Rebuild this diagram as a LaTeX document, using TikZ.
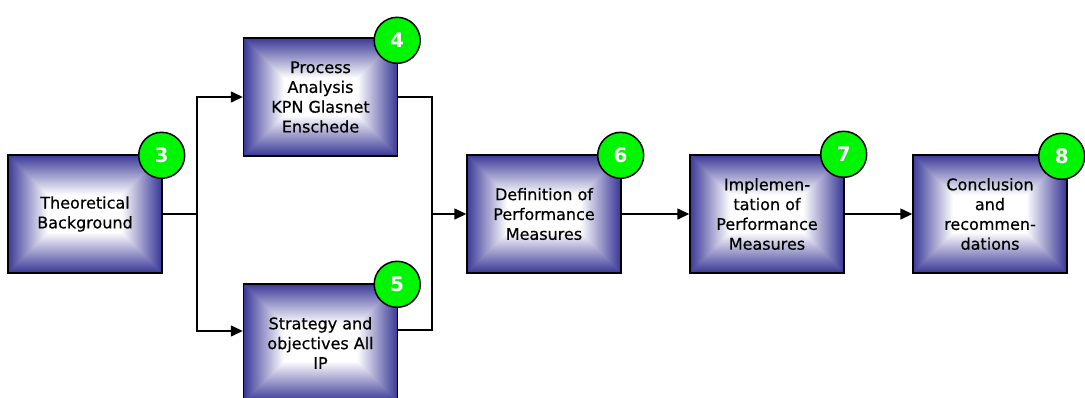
\documentclass[tikz,border=0pt]{standalone}
\usepackage{fontspec}
\setmainfont{DejaVu Sans}
\newfontfamily\boxfont[FakeBold=0.5]{DejaVu Sans}
\usetikzlibrary{arrows.meta,calc}

\definecolor{boxblue}{RGB}{60,58,152}
\definecolor{badgegreen}{RGB}{0,245,0}

\tikzset{
  stepbox/.style={
    rectangle, draw=black, line width=1.4pt, inner sep=0pt,
    minimum width=154pt, minimum height=118pt,
    align=center, font=\boxfont\fontsize{16}{19.8}\selectfont,
    % bevelled fill: nested rectangles fading from blue edge to white centre
    path picture={
      \foreach \i [evaluate=\i as \pct using {100*(1-\i/40)}] in {0,...,40} {
        \fill[boxblue!\pct!white]
          ($(path picture bounding box.south west)+(\i pt,\i pt)$) rectangle
          ($(path picture bounding box.north east)-(\i pt,\i pt)$);
      }
    }
  },
  badge/.style={
    circle, draw=black, line width=1.5pt, fill=badgegreen,
    minimum size=46pt, inner sep=0pt, text=white,
    font=\fontsize{20}{20}\selectfont\bfseries
  },
  link/.style={draw=black, line width=1.4pt},
  flow/.style={link, -{Triangle[length=12pt,width=11pt]}}
}

\begin{document}
\begin{tikzpicture}[x=1pt,y=-1pt]
\clip (0,0) rectangle (1085,397);

% process steps
\node[stepbox] (b3) at (85,214)    {Theoretical\\Background};
\node[stepbox] (b4) at (320.5,97)  {Process\\Analysis\\KPN Glasnet\\Enschede};
\node[stepbox] (b5) at (320.5,343) {Strategy and\\objectives All\\IP};
\node[stepbox] (b6) at (544,214)   {Definition of\\Performance\\Measures};
\node[stepbox] (b7) at (767,214)   {Implemen-\\tation of\\Performance\\Measures};
\node[stepbox] (b8) at (990,214)   {Conclusion\\and\\recommen-\\dations};

% branch points
\coordinate (split) at (197,214);
\coordinate (merge) at (432,214);

% connectors
\draw[link] (b3.east) -- (split);
\draw[flow] (split) |- (b4.west);
\draw[flow] (split) |- ([yshift=12pt]b5.west);
\draw[link] (b4.east) -| (merge);
\draw[link] ([yshift=13pt]b5.east) -| (merge);
\draw[flow] (merge) -- (b6.west);
\draw[flow] (b6.east) -- (b7.west);
\draw[flow] (b7.east) -- (b8.west);

% chapter numbers
\node[badge] (n3) at ($(b3.north east)+(-1pt,-1pt)$) {3};
\node[badge] (n4) at ($(b4.north east)+(-1pt,-3pt)$) {4};
\node[badge] (n5) at ($(b5.north east)+(-1pt,-1pt)$) {5};
\node[badge] (n6) at ($(b6.north east)+(-1pt,-1pt)$) {6};
\node[badge] (n7) at ($(b7.north east)+(-1pt,0pt)$)  {7};
\node[badge] (n8) at ($(b8.north east)+(-6pt,-2pt)$) {8};
\end{tikzpicture}
\end{document}
